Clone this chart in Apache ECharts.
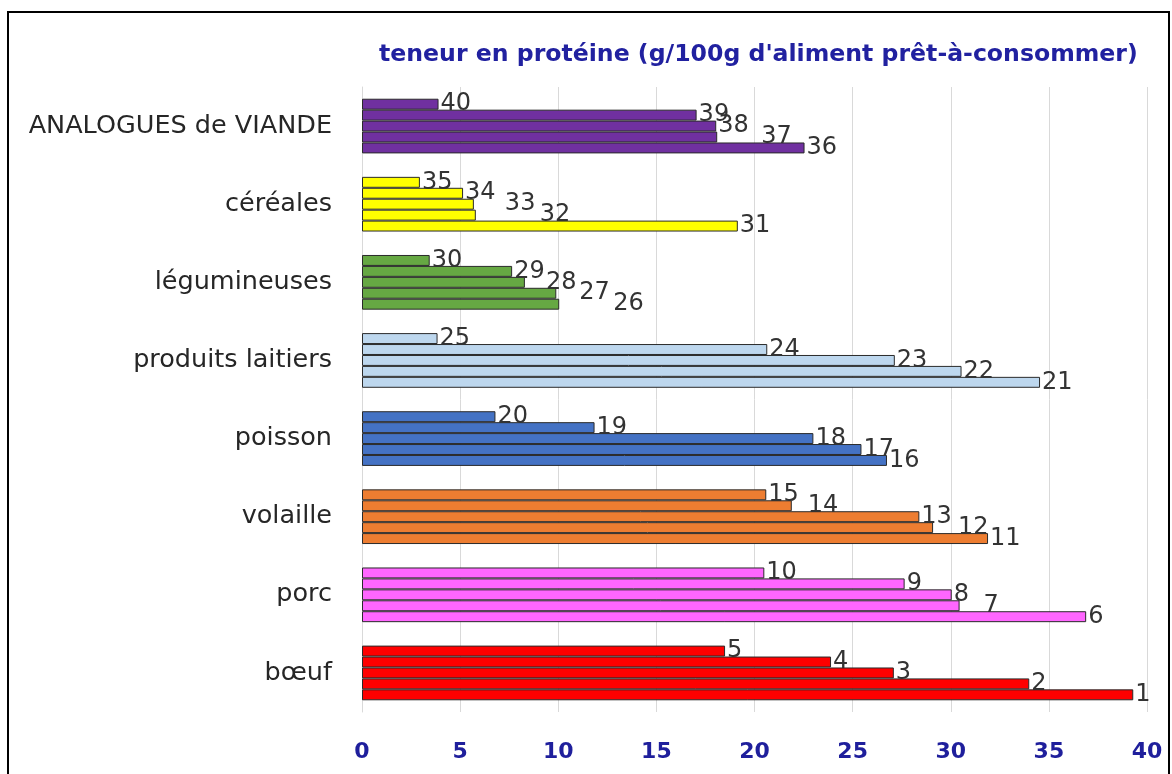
<!DOCTYPE html>
<html>
<head>
<meta charset="utf-8">
<script src="https://cdn.jsdelivr.net/npm/echarts@6/dist/echarts.min.js"></script>
<style>html,body{margin:0;padding:0;background:#fff;}#c{width:1172px;height:774px;}</style>
</head>
<body>
<div id="c"></div>
<script>
// Categories, bottom to top
var categories = ['bœuf', 'porc', 'volaille', 'poisson', 'produits laitiers', 'légumineuses', 'céréales', 'ANALOGUES de VIANDE'];
// Values per category, listed from the bottom bar (rank 1) to the top bar (rank 5)
var boeuf = [39.3, 34.0, 27.1, 23.9, 18.5];
var porc = [36.9, 30.45, 30.05, 27.65, 20.5];
var volaille = [31.9, 29.1, 28.4, 21.9, 20.6];
var poisson = [26.75, 25.45, 23.0, 11.85, 6.8];
var produitsLaitiers = [34.55, 30.55, 27.15, 20.65, 3.85];
var legumineuses = [10.05, 9.9, 8.3, 7.65, 3.45];
var cereales = [19.15, 5.8, 5.7, 5.15, 2.95];
var analogues = [22.55, 18.1, 18.05, 17.05, 3.9];
// Item labels (numbering), per category from bottom bar to top bar
var labelNumbers = [
  [1, 2, 3, 4, 5], [6, 7, 8, 9, 10], [11, 12, 13, 14, 15], [16, 17, 18, 19, 20],
  [21, 22, 23, 24, 25], [26, 27, 28, 29, 30], [31, 32, 33, 34, 35], [36, 37, 38, 39, 40]
];
var xTicks = [0, 5, 10, 15, 20, 25, 30, 35, 40];

// ---- styles (kept apart from data) ----
var categoryColors = ['#FF0000', '#FF66FF', '#ED7D31', '#4472C4', '#BDD7EE', '#66A843', '#FFFF00', '#7030A0'];
// horizontal nudges (px) of some item labels, keyed by label number, as moved in the original
var labelNudgeX = { 37: 42, 33: 29, 32: 62, 28: 19, 27: 21, 26: 52, 14: 14, 12: 23, 7: 22 };

var byCategory = [boeuf, porc, volaille, poisson, produitsLaitiers, legumineuses, cereales, analogues];
var FONT = 'DejaVu Sans';

var series = [];
// series order: rank 5 (top) first
for (var r = 4; r >= 0; r--) {
  (function (rank) {
    series.push({
      type: 'bar',
      name: 'r' + (rank + 1),
      barGap: '0%',
      barCategoryGap: '30%',
      data: byCategory.map(function (arr, ci) {
        var n = labelNumbers[ci][rank];
        return {
          value: arr[rank],
          itemStyle: { color: categoryColors[ci], borderColor: '#2a2a2a', borderWidth: 1 },
          label: { formatter: String(n), offset: [labelNudgeX[n] || 0, 0] }
        };
      }),
      label: {
        show: true, position: 'right', distance: 2,
        fontFamily: FONT, fontSize: 24, color: '#333333'
      },
      animation: false
    });
  })(r);
}

var chart = echarts.init(document.getElementById('c'), null, { renderer: 'canvas' });
chart.setOption({
  backgroundColor: '#ffffff',
  animation: false,
  title: {
    text: "teneur en protéine (g/100g d'aliment prêt-à-consommer)",
    left: 374, top: 38,
    textStyle: { fontFamily: FONT, fontSize: 23.6, fontWeight: 'bold', color: '#2121A0' }
  },
  graphic: [{
    type: 'rect', shape: { x: 8, y: 12, width: 1161, height: 790 },
    style: { fill: 'none', stroke: '#000', lineWidth: 2 }, silent: true
  }],
  grid: { left: 362, right: 25, top: 87, bottom: 62, containLabel: false },
  xAxis: {
    type: 'value', min: 0, max: 40, interval: 5,
    axisLine: { show: false }, axisTick: { show: false },
    splitLine: { lineStyle: { color: '#D9D9D9', width: 1 } },
    axisLabel: {
      margin: 29, fontFamily: FONT, fontSize: 22, fontWeight: 'bold', color: '#1F1F9C',
      formatter: function (v) { return xTicks.indexOf(v) >= 0 ? String(v) : ''; }
    }
  },
  yAxis: {
    type: 'category', data: categories,
    axisTick: { show: false },
    axisLine: { lineStyle: { color: '#D9D9D9' } },
    axisLabel: { margin: 30, fontFamily: FONT, fontSize: 25.5, color: '#262626' }
  },
  series: series
});
</script>
</body>
</html>
